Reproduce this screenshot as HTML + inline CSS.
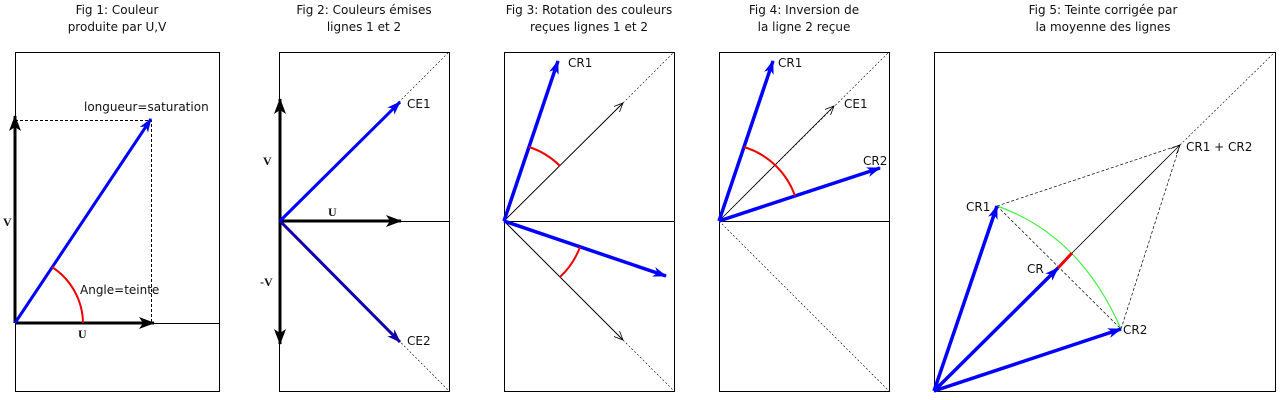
<!DOCTYPE html>
<html><head><meta charset="utf-8"><style>
html,body{margin:0;padding:0;background:#fff;width:1280px;height:400px;overflow:hidden}
</style></head><body>
<svg width="1280" height="400" viewBox="0 0 1280 400" xmlns="http://www.w3.org/2000/svg">
<defs>
<marker id="bk" markerWidth="16" markerHeight="12" refX="15" refY="6" orient="auto" markerUnits="userSpaceOnUse"><path d="M0,0 L16,6 L0,12 L4,6z" fill="#000"/></marker>
<marker id="bl" markerWidth="14" markerHeight="10" refX="13" refY="5" orient="auto" markerUnits="userSpaceOnUse"><path d="M0,0 L14,5 L0,10 L4,5z" fill="#00f"/></marker>
<marker id="bb" markerWidth="14" markerHeight="10" refX="13" refY="5" orient="auto" markerUnits="userSpaceOnUse"><path d="M0,0 L14,5 L0,10 L4,5z" fill="#10a"/></marker>
<marker id="ol" markerWidth="10" markerHeight="8" refX="9" refY="4" orient="auto" markerUnits="userSpaceOnUse"><path d="M0,0 L9,4 L0,8" fill="none" stroke="#000" stroke-width="0.8"/></marker>
</defs>
<g font-family="DejaVu Sans, Liberation Sans, sans-serif" font-size="12" fill="#111" text-anchor="middle">
<text x="117" y="14">Fig 1: Couleur</text><text x="117" y="31">produite par U,V</text>
<text x="364" y="14">Fig 2: Couleurs émises</text><text x="364" y="31">lignes 1 et 2</text>
<text x="589" y="14">Fig 3: Rotation des couleurs</text><text x="589" y="31">reçues lignes 1 et 2</text>
<text x="804" y="14">Fig 4: Inversion de</text><text x="804" y="31">la ligne 2 reçue</text>
<text x="1103" y="14">Fig 5: Teinte corrigée par</text><text x="1103" y="31">la moyenne des lignes</text>
</g>
<g fill="none" stroke="#000" stroke-width="1">
<rect x="15.5" y="52.5" width="204" height="339"/>
<rect x="279.5" y="52.5" width="170" height="339"/>
<rect x="504.5" y="52.5" width="170" height="339"/>
<rect x="719.5" y="52.5" width="170" height="339"/>
<rect x="934.5" y="52.5" width="341" height="339"/>
</g>
<!-- Fig1 -->
<line x1="15" y1="323.5" x2="219" y2="323.5" stroke="#000"/>
<path d="M15,120.5H151.5V323" stroke="#000" stroke-dasharray="3,2" fill="none"/>
<line x1="15" y1="323" x2="15" y2="116" stroke="#000" stroke-width="3" marker-end="url(#bk)"/>
<line x1="15" y1="323" x2="154" y2="323" stroke="#000" stroke-width="3" marker-end="url(#bk)"/>
<line x1="15" y1="323" x2="151" y2="119" stroke="#00f" stroke-width="3" marker-end="url(#bl)"/>
<path d="M83,323 A68,68 0 0 0 52,267" stroke="#e00" stroke-width="2" fill="none"/>
<g font-family="DejaVu Sans, Liberation Sans, sans-serif" font-size="12" fill="#111">
<text x="84" y="111">longueur=saturation</text>
<text x="80" y="294">Angle=teinte</text>
</g>
<g font-family="Liberation Serif, serif" font-weight="bold" font-size="12" fill="#111">
<text x="3" y="226">V</text><text x="78" y="338">U</text>
<text x="263" y="165">V</text><text x="328" y="216">U</text><text x="260" y="286">-V</text>
</g>
<!-- Fig2 -->
<line x1="280" y1="221.5" x2="449" y2="221.5" stroke="#000"/>
<path d="M280,221L449,52M280,221L449,391" stroke="#000" stroke-width="0.6" stroke-dasharray="2,2"/>
<line x1="280" y1="221" x2="280" y2="99" stroke="#000" stroke-width="3" marker-end="url(#bk)"/>
<line x1="280" y1="221" x2="280" y2="344" stroke="#000" stroke-width="3" marker-end="url(#bk)"/>
<line x1="280" y1="221" x2="401" y2="221" stroke="#000" stroke-width="3" marker-end="url(#bk)"/>
<line x1="280" y1="221" x2="400" y2="102" stroke="#00f" stroke-width="3" marker-end="url(#bl)"/>
<line x1="280" y1="221" x2="400" y2="342" stroke="#10a" stroke-width="3" marker-end="url(#bb)"/>
<g font-family="DejaVu Sans, Liberation Sans, sans-serif" font-size="12" fill="#111">
<text x="407" y="108">CE1</text><text x="407" y="345">CE2</text>
<text x="568" y="67">CR1</text>
<text x="778" y="67">CR1</text><text x="844" y="108">CE1</text><text x="863" y="165">CR2</text>
<text x="966" y="211">CR1</text><text x="1027" y="273">CR</text><text x="1123" y="334">CR2</text><text x="1186" y="151">CR1 + CR2</text>
</g>
<!-- Fig3 -->
<line x1="504" y1="221.5" x2="674" y2="221.5" stroke="#000"/>
<path d="M623,103L674,52M623,340L674,391" stroke="#000" stroke-width="0.6" stroke-dasharray="2,2"/>
<line x1="504" y1="221" x2="623" y2="103" stroke="#000" stroke-width="1" marker-end="url(#ol)"/>
<line x1="504" y1="221" x2="623" y2="340" stroke="#000" stroke-width="1" marker-end="url(#ol)"/>
<line x1="504" y1="221" x2="558" y2="61" stroke="#00f" stroke-width="3.5" marker-end="url(#bl)"/>
<line x1="504" y1="221" x2="666" y2="276" stroke="#00f" stroke-width="3.5" marker-end="url(#bl)"/>
<path d="M529,147 A78,78 0 0 1 560,166" stroke="#e00" stroke-width="2" fill="none"/>
<path d="M580,247 A78,78 0 0 1 560,277" stroke="#e00" stroke-width="2" fill="none"/>
<!-- Fig4 -->
<line x1="719" y1="221.5" x2="889" y2="221.5" stroke="#000"/>
<path d="M719,221L889,52M719,221L889,391" stroke="#000" stroke-width="0.6" stroke-dasharray="2,2"/>
<line x1="719" y1="221" x2="834" y2="106" stroke="#000" stroke-width="0.8" marker-end="url(#ol)"/>
<line x1="719" y1="221" x2="773" y2="61" stroke="#00f" stroke-width="3.5" marker-end="url(#bl)"/>
<line x1="719" y1="221" x2="880" y2="168" stroke="#00f" stroke-width="3.5" marker-end="url(#bl)"/>
<path d="M744,147 A78,78 0 0 1 795,196" stroke="#e00" stroke-width="2" fill="none"/>
<!-- Fig5 -->
<path d="M1180,145L1275,52" stroke="#000" stroke-width="0.6" stroke-dasharray="2,2"/>
<path d="M997,206L1180,145M1121,329L1180,145M997,206L1121,329" stroke="#000" stroke-width="0.7" stroke-dasharray="3,2" fill="none"/>
<line x1="934" y1="391" x2="1180" y2="145" stroke="#000" stroke-width="0.8" marker-end="url(#ol)"/>
<path d="M997,206 Q1080,235 1121,329" stroke="#4e4" stroke-width="1.2" fill="none"/>
<line x1="1058" y1="268" x2="1072" y2="253" stroke="#e00" stroke-width="3"/>
<line x1="934" y1="391" x2="997" y2="206" stroke="#00f" stroke-width="3.5" marker-end="url(#bl)"/>
<line x1="934" y1="391" x2="1058" y2="268" stroke="#00f" stroke-width="3.5" marker-end="url(#bl)"/>
<line x1="934" y1="391" x2="1121" y2="329" stroke="#00f" stroke-width="3.5" marker-end="url(#bl)"/>
</svg>
</body></html>
